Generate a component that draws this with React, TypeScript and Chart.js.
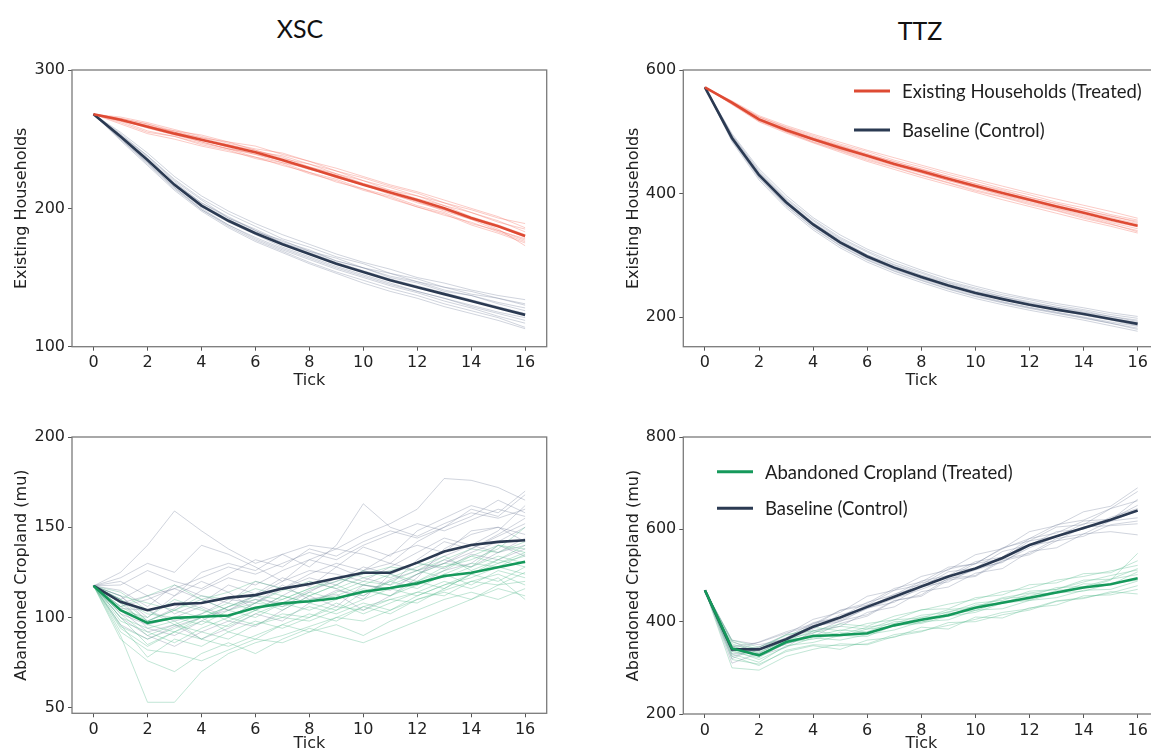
import React, { useEffect, useRef } from "react";
import { Chart, registerables } from "chart.js";

Chart.register(...registerables);

// ---------- shared axes ----------
const steps = [0, 1, 2, 3, 4, 5, 6, 7, 8, 9, 10, 11, 12, 13, 14, 15, 16];
const xTicks = [0, 2, 4, 6, 8, 10, 12, 14, 16];
const hhTicksXSC = [100, 200, 300];
const hhTicksTTZ = [200, 400, 600];
const cropTicksXSC = [50, 100, 150, 200];
const cropTicksTTZ = [200, 400, 600, 800];

const panelTitles = ["XSC", "TTZ"];
const xAxisTitle = "Tick";
const hhAxisTitle = "Existing Households";
const cropAxisTitle = "Abandoned Cropland (mu)";
const hhLegend = ["Existing Households (Treated)", "Baseline (Control)"];
const cropLegend = ["Abandoned Cropland (Treated)", "Baseline (Control)"];

// ---------- XSC : existing households ----------
const xscHhTreatedMean = [268, 264, 259, 254, 249.6, 245, 240.5, 235, 229, 223, 217, 211.5, 206, 200, 193, 187, 180];
const xscHhControlMean = [268, 252, 235, 217, 202, 191, 182, 174, 167, 160, 154, 148, 143, 138, 133, 128, 123];
const xscHhTreatedRuns = [
  [268, 265, 261, 256, 253, 248, 245, 239, 234, 227, 222, 216, 211, 204, 199, 193, 189],
  [268, 263, 256, 252, 246, 242, 236, 232, 225, 220, 213, 208, 201, 196, 188, 182, 175],
  [268, 264, 260, 255, 251, 246, 242, 236, 232, 225, 220, 213, 209, 202, 197, 190, 185],
  [268, 262, 255, 252, 247, 243, 237, 233, 226, 221, 214, 209, 202, 197, 189, 184, 177],
  [268, 264, 259, 255, 249, 246, 241, 238, 232, 227, 220, 215, 209, 204, 197, 191, 183],
  [268, 265, 261, 255, 250, 244, 239, 233, 229, 222, 217, 210, 205, 198, 192, 184, 178],
  [268, 264, 258, 253, 248, 243, 240, 234, 228, 224, 218, 213, 207, 202, 194, 188, 181],
  [268, 263, 259, 256, 251, 248, 242, 237, 230, 225, 218, 212, 205, 199, 192, 187, 179],
  [268, 264, 260, 254, 248, 243, 239, 235, 230, 224, 217, 211, 204, 199, 193, 185, 173],
  [268, 266, 262, 257, 252, 247, 243, 240, 234, 229, 223, 217, 212, 206, 200, 194, 186],
  [268, 261, 254, 250, 245, 241, 237, 231, 226, 219, 214, 207, 201, 195, 190, 183, 176],
];
const xscHhControlMean2 = xscHhControlMean;
const xscHhControlRuns = [
  [268, 253, 238, 221, 207, 196, 187, 178, 172, 165, 160, 153, 149, 143, 140, 135, 131],
  [268, 250, 232, 214, 199, 188, 178, 170, 163, 156, 150, 144, 139, 133, 128, 122, 117],
  [268, 252, 236, 218, 204, 193, 185, 176, 170, 162, 157, 151, 147, 141, 137, 132, 128],
  [268, 251, 233, 215, 200, 188, 179, 171, 164, 157, 151, 145, 140, 135, 129, 124, 119],
  [268, 254, 238, 220, 206, 193, 184, 175, 169, 162, 157, 150, 146, 140, 137, 131, 126],
  [268, 251, 234, 216, 201, 190, 181, 172, 165, 158, 152, 146, 140, 135, 130, 125, 121],
  [268, 252, 235, 218, 203, 192, 183, 177, 169, 164, 157, 153, 147, 143, 138, 135, 130],
  [268, 250, 233, 215, 199, 187, 177, 169, 161, 154, 148, 142, 137, 131, 126, 121, 114],
  [268, 253, 237, 219, 204, 194, 184, 175, 168, 161, 155, 149, 144, 139, 134, 129, 124],
  [268, 255, 240, 223, 209, 198, 189, 181, 174, 167, 161, 156, 150, 146, 141, 137, 134],
  [268, 249, 231, 213, 198, 186, 176, 168, 160, 153, 146, 140, 135, 129, 124, 119, 113],
];

// ---------- TTZ : existing households ----------
const ttzHhTreatedMean = [572, 547, 520, 503, 488, 474, 461, 448, 436, 424, 412, 401, 390, 379, 369, 358, 348];
const ttzHhControlMean = [572, 490, 430, 386, 350, 321, 298, 280, 265, 251, 239, 229, 220, 212, 205, 197, 189];
const ttzHhTreatedRuns = [
  [572, 549, 524, 508, 494, 480, 468, 454, 443, 431, 420, 408, 398, 386, 377, 366, 357],
  [572, 545, 517, 500, 483, 469, 454, 442, 429, 417, 404, 394, 382, 372, 360, 350, 340],
  [572, 548, 522, 506, 490, 477, 463, 452, 439, 428, 416, 406, 394, 384, 373, 364, 353],
  [572, 546, 519, 501, 486, 471, 458, 445, 433, 421, 409, 397, 386, 375, 364, 353, 343],
  [572, 547, 521, 504, 490, 476, 463, 449, 438, 425, 414, 402, 392, 381, 371, 361, 351],
  [572, 546, 518, 502, 487, 472, 460, 446, 434, 421, 410, 398, 388, 376, 366, 355, 346],
  [572, 548, 524, 507, 492, 478, 465, 451, 440, 427, 416, 404, 394, 383, 373, 363, 355],
  [572, 545, 519, 500, 484, 470, 456, 443, 430, 418, 406, 395, 384, 373, 362, 351, 338],
  [572, 550, 526, 510, 496, 483, 470, 458, 446, 434, 423, 412, 401, 391, 381, 371, 360],
  [572, 544, 516, 498, 482, 467, 452, 439, 426, 414, 402, 390, 379, 368, 357, 347, 336],
];
const ttzHhControlRuns = [
  [572, 495, 437, 393, 358, 329, 307, 288, 273, 258, 247, 236, 228, 219, 212, 204, 198],
  [572, 486, 425, 380, 344, 315, 292, 274, 259, 245, 233, 223, 214, 206, 198, 190, 182],
  [572, 492, 433, 389, 353, 325, 301, 284, 268, 255, 242, 233, 223, 216, 208, 201, 193],
  [572, 488, 427, 383, 347, 318, 295, 277, 262, 248, 236, 225, 216, 208, 200, 192, 185],
  [572, 494, 435, 391, 356, 327, 305, 285, 271, 256, 245, 233, 225, 216, 210, 201, 195],
  [572, 489, 429, 384, 348, 319, 296, 278, 263, 250, 238, 228, 219, 211, 203, 195, 186],
  [572, 491, 432, 388, 352, 323, 300, 282, 267, 253, 241, 231, 222, 214, 207, 199, 191],
  [572, 487, 426, 381, 345, 316, 293, 275, 260, 246, 234, 224, 215, 207, 199, 190, 180],
  [572, 497, 440, 397, 361, 333, 310, 292, 276, 262, 250, 239, 230, 222, 215, 207, 201],
  [572, 484, 422, 377, 341, 312, 289, 271, 256, 242, 230, 220, 211, 203, 195, 186, 177],
];

// ---------- XSC : abandoned cropland ----------
const xscCropTreatedMean = [117.5, 104, 97, 99.8, 100.4, 101.1, 105.4, 107.8, 109, 110.6, 114.3, 116.3, 118.9, 123, 124.8, 127.8, 130.9];
const xscCropControlMean = [117.5, 108.7, 104, 107.4, 108, 111, 112.4, 116, 118.5, 121.7, 124.8, 124.8, 130.4, 136.5, 140.2, 141.9, 142.8];
const xscCropTreatedRuns = [
  [117.5, 90, 53, 53, 70, 80, 86, 90, 95, 100, 98, 104, 110, 115, 120, 118, 125],
  [117.5, 100, 85, 92, 98, 95, 102, 108, 104, 110, 115, 112, 118, 124, 130, 128, 135],
  [117.5, 112, 108, 104, 100, 106, 112, 110, 116, 120, 124, 128, 126, 132, 138, 136, 142],
  [117.5, 96, 78, 88, 84, 92, 88, 96, 102, 98, 106, 110, 114, 112, 120, 124, 118],
  [117.5, 104, 100, 110, 105, 98, 104, 112, 108, 114, 120, 118, 124, 130, 128, 134, 130],
  [117.5, 108, 96, 92, 100, 106, 110, 104, 112, 118, 112, 120, 126, 122, 128, 140, 138],
  [117.5, 98, 92, 86, 94, 100, 96, 102, 100, 106, 104, 110, 108, 116, 124, 120, 128],
  [117.5, 110, 102, 100, 96, 104, 108, 115, 120, 116, 122, 126, 130, 128, 134, 130, 136],
  [117.5, 92, 82, 80, 76, 82, 88, 86, 92, 96, 90, 98, 104, 110, 114, 110, 116],
  [117.5, 106, 98, 104, 112, 110, 116, 112, 108, 104, 114, 120, 116, 124, 118, 126, 122],
  [117.5, 102, 90, 96, 92, 88, 96, 100, 106, 102, 108, 104, 112, 118, 124, 132, 128],
  [117.5, 114, 104, 108, 104, 100, 108, 106, 110, 112, 118, 116, 120, 128, 132, 138, 150],
  [117.5, 95, 88, 94, 100, 92, 98, 94, 100, 108, 102, 108, 114, 120, 116, 122, 110],
  [117.5, 88, 76, 70, 80, 86, 80, 88, 94, 90, 86, 92, 98, 104, 110, 116, 112],
  [117.5, 106, 112, 118, 110, 114, 120, 116, 112, 118, 126, 122, 128, 134, 126, 132, 140],
  [117.5, 100, 94, 98, 88, 96, 104, 100, 98, 104, 110, 116, 112, 118, 122, 128, 124],
  [117.5, 110, 98, 104, 110, 104, 100, 108, 114, 110, 116, 112, 120, 116, 124, 130, 134],
  [117.5, 94, 84, 92, 88, 84, 90, 96, 92, 100, 106, 102, 110, 114, 110, 118, 120],
  [117.5, 108, 104, 96, 102, 108, 104, 110, 116, 122, 118, 124, 120, 126, 134, 140, 136],
];
const xscCropControlRuns = [
  [117.5, 125, 140, 159, 148, 138, 130, 135, 140, 138, 146, 152, 160, 177, 176, 172, 165],
  [117.5, 112, 98, 105, 115, 122, 118, 126, 132, 128, 139, 134, 148, 155, 162, 158, 170],
  [117.5, 104, 92, 96, 88, 94, 102, 98, 108, 115, 112, 121, 126, 130, 138, 145, 152],
  [117.5, 110, 118, 112, 125, 130, 126, 135, 128, 140, 163, 150, 145, 152, 158, 155, 160],
  [117.5, 100, 90, 84, 92, 98, 95, 104, 112, 106, 118, 115, 124, 132, 128, 136, 140],
  [117.5, 115, 106, 118, 112, 108, 120, 116, 124, 130, 126, 135, 140, 136, 148, 150, 146],
  [117.5, 108, 112, 102, 108, 118, 113, 122, 117, 128, 122, 118, 132, 142, 138, 146, 155],
  [117.5, 96, 88, 95, 100, 104, 110, 108, 115, 120, 128, 124, 130, 127, 135, 132, 138],
  [117.5, 112, 100, 112, 120, 114, 104, 112, 120, 116, 110, 124, 118, 126, 130, 140, 134],
  [117.5, 105, 104, 98, 102, 110, 108, 118, 110, 113, 104, 112, 122, 138, 146, 150, 142],
  [117.5, 122, 130, 125, 140, 135, 128, 120, 132, 138, 135, 130, 142, 150, 156, 165, 158],
  [117.5, 118, 126, 120, 116, 124, 132, 128, 138, 134, 142, 148, 144, 150, 160, 156, 168],
  [117.5, 102, 96, 100, 106, 100, 108, 116, 122, 118, 126, 130, 126, 134, 140, 136, 144],
  [117.5, 110, 94, 90, 98, 106, 112, 106, 114, 122, 118, 116, 124, 130, 136, 142, 150],
  [117.5, 120, 112, 116, 122, 128, 124, 130, 136, 132, 140, 146, 152, 148, 154, 160, 156],
  [117.5, 106, 110, 116, 110, 104, 112, 120, 126, 124, 120, 128, 136, 144, 140, 148, 162],
];

// ---------- TTZ : abandoned cropland ----------
const ttzCropTreatedMean = [468, 342, 327, 356, 369, 371, 375, 392, 404, 414, 430, 441, 452, 463, 474, 481, 494];
const ttzCropControlMean = [468, 340, 340, 362, 389, 409, 432, 454, 476, 498, 515, 538, 566, 585, 603, 621, 641];
const ttzCropTreatedRuns = [
  [468, 325, 305, 338, 350, 348, 352, 372, 380, 392, 405, 420, 428, 445, 452, 462, 478],
  [468, 356, 340, 372, 380, 395, 390, 412, 425, 438, 448, 465, 472, 490, 498, 510, 522],
  [468, 338, 318, 345, 365, 360, 372, 382, 400, 404, 425, 428, 446, 452, 468, 470, 488],
  [468, 345, 335, 358, 380, 372, 388, 396, 414, 420, 440, 446, 466, 470, 490, 492, 515],
  [468, 300, 295, 325, 340, 352, 350, 368, 378, 398, 400, 415, 425, 444, 450, 465, 460],
  [468, 348, 342, 360, 368, 382, 378, 400, 402, 422, 430, 450, 455, 474, 476, 492, 502],
  [468, 330, 312, 348, 355, 370, 368, 392, 396, 412, 420, 440, 446, 462, 466, 482, 490],
  [468, 342, 330, 352, 372, 368, 384, 390, 410, 412, 436, 440, 460, 462, 482, 480, 508],
  [468, 335, 322, 355, 362, 376, 372, 395, 398, 418, 424, 444, 448, 468, 472, 490, 548],
  [468, 360, 345, 370, 388, 380, 396, 404, 426, 428, 452, 458, 480, 484, 504, 506, 532],
  [468, 318, 308, 335, 348, 340, 360, 366, 388, 384, 410, 408, 430, 436, 456, 458, 470],
  [468, 352, 332, 362, 376, 390, 384, 404, 408, 426, 432, 452, 462, 470, 486, 500, 512],
];
const ttzCropControlRuns = [
  [468, 320, 345, 372, 405, 420, 455, 468, 498, 512, 545, 558, 595, 608, 638, 650, 690],
  [468, 358, 330, 352, 375, 402, 415, 446, 455, 490, 498, 532, 545, 575, 585, 610, 618],
  [468, 335, 356, 378, 395, 425, 440, 472, 486, 518, 525, 560, 575, 605, 610, 645, 662],
  [468, 348, 326, 345, 380, 390, 420, 432, 465, 475, 505, 515, 552, 560, 590, 595, 588],
  [468, 338, 345, 365, 398, 410, 442, 458, 488, 500, 530, 540, 580, 592, 618, 622, 652],
  [468, 342, 325, 352, 368, 396, 412, 445, 458, 494, 500, 535, 548, 580, 590, 618, 625],
  [468, 325, 340, 358, 396, 408, 436, 454, 484, 496, 526, 536, 575, 585, 612, 620, 665],
  [468, 360, 350, 362, 390, 400, 430, 442, 476, 486, 516, 528, 565, 575, 605, 608, 612],
  [468, 330, 338, 360, 384, 415, 430, 460, 475, 508, 516, 552, 566, 595, 600, 626, 645],
  [468, 346, 355, 375, 392, 424, 436, 468, 480, 514, 526, 558, 580, 610, 620, 645, 682],
  [468, 310, 332, 362, 388, 404, 428, 450, 470, 492, 512, 530, 560, 584, 602, 618, 640],
];

// ---------- styles ----------
const RED = "#de4a33";
const RED_THIN = "rgba(244,112,96,0.36)";
const NAVY = "#2b3a52";
const NAVY_THIN = "rgba(110,120,150,0.32)";
const GREEN = "#15995b";
const GREEN_THIN = "rgba(86,186,140,0.36)";
const TICK_FONT = { family: "'DejaVu Sans', sans-serif", size: 16 };
const LEGEND_FONT = "18.5px Lato, 'Open Sans', sans-serif";

type PanelSpec = {
  canvas: { x: number; y: number; w: number; h: number };
  padTop: number;
  padRight: number;
  yWidth: number;
  xHeight: number;
  yTitlePad: number;
  xTitlePad: number;
  yMin: number;
  yMax: number;
  yTicks: number[];
  yTitle: string;
  treatedMean: number[];
  controlMean: number[];
  treatedRuns: number[][];
  controlRuns: number[][];
  treatedColor: string;
  treatedThin: string;
  legend?: { labels: string[]; dx: number; dy: number; gap: number };
};

const panels: PanelSpec[] = [
  {
    canvas: { x: 0, y: 40, w: 560, h: 350 },
    padTop: 30, padRight: 13.3, yWidth: 72, xHeight: 43.3, yTitlePad: 12, xTitlePad: 0,
    yMin: 100, yMax: 300, yTicks: hhTicksXSC, yTitle: hhAxisTitle,
    treatedMean: xscHhTreatedMean, controlMean: xscHhControlMean2,
    treatedRuns: xscHhTreatedRuns, controlRuns: xscHhControlRuns,
    treatedColor: RED, treatedThin: RED_THIN,
  },
  {
    canvas: { x: 600, y: 40, w: 580, h: 350 },
    padTop: 30, padRight: 20.7, yWidth: 83.3, xHeight: 43.3, yTitlePad: 24, xTitlePad: 0,
    yMin: 152, yMax: 600, yTicks: hhTicksTTZ, yTitle: hhAxisTitle,
    treatedMean: ttzHhTreatedMean, controlMean: ttzHhControlMean,
    treatedRuns: ttzHhTreatedRuns, controlRuns: ttzHhControlRuns,
    treatedColor: RED, treatedThin: RED_THIN,
    legend: { labels: hhLegend, dx: 170.7, dy: 21, gap: 39 },
  },
  {
    canvas: { x: 0, y: 410, w: 560, h: 343 },
    padTop: 27, padRight: 13.3, yWidth: 72, xHeight: 39.7, yTitlePad: 12, xTitlePad: 0,
    yMin: 46.9, yMax: 200, yTicks: cropTicksXSC, yTitle: cropAxisTitle,
    treatedMean: xscCropTreatedMean, controlMean: xscCropControlMean,
    treatedRuns: xscCropTreatedRuns, controlRuns: xscCropControlRuns,
    treatedColor: GREEN, treatedThin: GREEN_THIN,
  },
  {
    canvas: { x: 600, y: 410, w: 580, h: 343 },
    padTop: 27, padRight: 20.7, yWidth: 83.3, xHeight: 39, yTitlePad: 24, xTitlePad: 0,
    yMin: 200, yMax: 800, yTicks: cropTicksTTZ, yTitle: cropAxisTitle,
    treatedMean: ttzCropTreatedMean, controlMean: ttzCropControlMean,
    treatedRuns: ttzCropTreatedRuns, controlRuns: ttzCropControlRuns,
    treatedColor: GREEN, treatedThin: GREEN_THIN,
    legend: { labels: cropLegend, dx: 33.7, dy: 34.7, gap: 36.6 },
  },
];

const toPoints = (vals: number[]) => steps.map((s, i) => ({ x: s, y: vals[i] }));

const framePlugin = {
  id: "frameBox",
  afterDraw(chart: any) {
    const { ctx, chartArea } = chart;
    const { left, top, right, bottom } = chartArea;
    ctx.save();
    ctx.strokeStyle = "#7a7a7a";
    ctx.lineWidth = 1.3;
    ctx.strokeRect(left, top, right - left, bottom - top);
    ctx.restore();
  },
};

function makeLegendPlugin(spec: PanelSpec) {
  return {
    id: "insetLegend",
    afterDraw(chart: any) {
      if (!spec.legend) return;
      const { ctx, chartArea } = chart;
      const colors = [spec.treatedColor, NAVY];
      ctx.save();
      ctx.font = LEGEND_FONT;
      ctx.textBaseline = "middle";
      ctx.textAlign = "left";
      spec.legend.labels.forEach((label, i) => {
        const x = chartArea.left + spec.legend!.dx;
        const y = chartArea.top + spec.legend!.dy + i * spec.legend!.gap;
        ctx.strokeStyle = colors[i];
        ctx.lineWidth = 3;
        ctx.beginPath();
        ctx.moveTo(x, y);
        ctx.lineTo(x + 36, y);
        ctx.stroke();
        ctx.fillStyle = "#1e1e1e";
        ctx.fillText(label, x + 48, y + 1);
      });
      ctx.restore();
    },
  };
}

function Panel({ spec }: { spec: PanelSpec }) {
  const ref = useRef<HTMLCanvasElement>(null);
  useEffect(() => {
    if (!ref.current) return;
    const datasets: any[] = [];
    datasets.push({
      data: toPoints(spec.treatedMean), borderColor: spec.treatedColor, borderWidth: 2.6, order: 0,
    });
    datasets.push({
      data: toPoints(spec.controlMean), borderColor: NAVY, borderWidth: 2.6, order: 1,
    });
    spec.controlRuns.forEach((r) =>
      datasets.push({ data: toPoints(r), borderColor: NAVY_THIN, borderWidth: 1, order: 3 })
    );
    spec.treatedRuns.forEach((r) =>
      datasets.push({ data: toPoints(r), borderColor: spec.treatedThin, borderWidth: 1, order: 2 })
    );
    const chart = new Chart(ref.current, {
      type: "line",
      data: { datasets },
      plugins: [framePlugin, makeLegendPlugin(spec)],
      options: {
        animation: false,
        responsive: false,
        events: [],
        layout: { padding: { top: spec.padTop, right: spec.padRight, bottom: 0, left: 0 } },
        plugins: { legend: { display: false }, tooltip: { enabled: false } },
        elements: { point: { radius: 0 }, line: { tension: 0, fill: false } },
        scales: {
          x: {
            type: "linear",
            min: -0.8,
            max: 16.8,
            afterBuildTicks: (s: any) => { s.ticks = xTicks.map((v) => ({ value: v })); },
            afterFit: (s: any) => { s.height = spec.xHeight; },
            ticks: { font: TICK_FONT, color: "#222", padding: 3, autoSkip: false, maxRotation: 0, callback: (v: any) => String(v) },
            grid: { display: true, drawOnChartArea: false, drawTicks: true, tickLength: 4, color: "#555" },
            border: { display: false },
            title: { display: true, text: xAxisTitle, font: TICK_FONT, color: "#222", padding: { top: 0, bottom: spec.xTitlePad } },
          },
          y: {
            type: "linear",
            min: spec.yMin,
            max: spec.yMax,
            afterBuildTicks: (s: any) => { s.ticks = spec.yTicks.map((v) => ({ value: v })); },
            afterFit: (s: any) => { s.width = spec.yWidth; },
            ticks: { font: TICK_FONT, color: "#222", padding: 3, autoSkip: false, callback: (v: any) => String(v) },
            grid: { display: true, drawOnChartArea: false, drawTicks: true, tickLength: 4, color: "#555" },
            border: { display: false },
            title: { display: true, text: spec.yTitle, font: TICK_FONT, color: "#222", padding: { top: spec.yTitlePad, bottom: 0 } },
          },
        },
      },
    } as any);
    return () => chart.destroy();
  }, [spec]);
  const { x, y, w, h } = spec.canvas;
  return (
    <canvas
      ref={ref}
      width={w}
      height={h}
      style={{ position: "absolute", left: x, top: y, width: w, height: h }}
    />
  );
}

const titleStyle: React.CSSProperties = {
  position: "absolute",
  transform: "translate(-50%, -50%)",
  font: "25px Lato, 'Open Sans', sans-serif",
  color: "#111",
  whiteSpace: "nowrap",
};

export default function App() {
  return (
    <div
      style={{
        position: "fixed",
        left: 0,
        top: 0,
        width: 1151,
        height: 753,
        overflow: "hidden",
        background: "#fff",
      }}
    >
      <div style={{ ...titleStyle, left: 300, top: 28 }}>{panelTitles[0]}</div>
      <div style={{ ...titleStyle, left: 920, top: 30 }}>{panelTitles[1]}</div>
      {panels.map((p, i) => (
        <Panel key={i} spec={p} />
      ))}
    </div>
  );
}
